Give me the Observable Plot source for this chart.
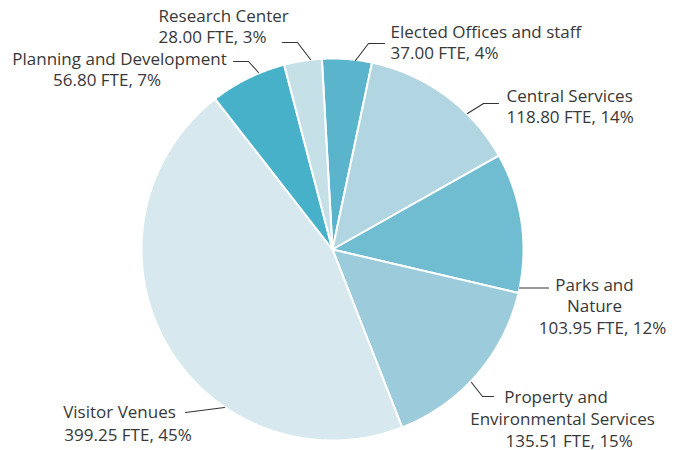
<!DOCTYPE html>
<html>
<head>
<meta charset="utf-8">
<script src="https://cdn.jsdelivr.net/npm/d3@7"></script>
<script src="https://cdn.jsdelivr.net/npm/@observablehq/plot@0.6"></script>
<style>
  html, body { margin: 0; padding: 0; background: #fff; }
  #chart svg { display: block; }
</style>
</head>
<body>
<div id="chart"></div>
<script>
// ---- data (clockwise from the top) ----
const names = ["Elected Offices and staff", "Central Services", "Parks and Nature",
  "Property and Environmental Services", "Visitor Venues", "Planning and Development", "Research Center"];
const labelNames = ["Elected Offices and staff", "Central Services", "Parks and\nNature",
  "Property and\nEnvironmental Services", "Visitor Venues", "Planning and Development", "Research Center"];
const fte = [37.00, 118.80, 103.95, 135.51, 399.25, 56.80, 28.00];
const percents = [4, 14, 12, 15, 45, 7, 3];

// ---- styles ----
const colors = ["#5ab5cc", "#b2d6e1", "#70bdd1", "#9ccbdb", "#d7e9ee", "#47b1ca", "#c6e0e8"];

// ---- layout (pixels) ----
const cx = 332, cy = 249, radius = 191;
const startDeg = -3.2;
// per label line: [x, baseline, anchor]
const labelLayout = [
  [[390, 37, "start"], [390, 58.5, "start"]],
  [[506, 101, "start"], [506, 122.5, "start"]],
  [[594, 290, "middle"], [594, 311.5, "middle"], [602, 333.5, "middle"]],
  [[555.5, 402.5, "middle"], [562, 424, "middle"], [568.7, 446, "middle"]],
  [[119, 417, "middle"], [127.5, 440, "middle"]],
  [[119, 64, "middle"], [106.5, 85, "middle"]],
  [[158, 21, "start"], [158, 42.5, "start"]]
];
const leaderLayout = [
  [[355, 60], [368, 43], [384, 43]],
  [[467, 113], [483, 103], [498, 103]],
  [[519, 287.5], [548, 287.5]],
  [[471, 382], [482, 396], [493, 396]],
  [[185, 412], [224, 407]],
  [[233, 61], [248, 61], [258, 72]],
  [[282, 42], [297, 42], [310, 59]]
];

// ---- build ----
const rows = names.map((name, i) => ({name, fte: fte[i], pct: percents[i], i}));
const arcs = d3.pie().sort(null).value(d => d.fte)
  .startAngle(startDeg * Math.PI / 180)
  .endAngle(startDeg * Math.PI / 180 + 2 * Math.PI)(rows);

const piePts = [];
for (const a of arcs) {
  const name = a.data.name;
  piePts.push({name, x: cx, y: cy});
  const steps = Math.max(4, Math.ceil((a.endAngle - a.startAngle) / (Math.PI / 360)));
  for (let k = 0; k <= steps; ++k) {
    const t = a.startAngle + (a.endAngle - a.startAngle) * k / steps;
    piePts.push({name, x: cx + radius * Math.sin(t), y: cy - radius * Math.cos(t)});
  }
}

const textRows = [];
rows.forEach((r, i) => {
  const lines = labelNames[i].split("\n").concat([`${r.fte.toFixed(2)} FTE, ${r.pct}%`]);
  lines.forEach((t, j) => {
    const [x, y, anchor] = labelLayout[i][j];
    textRows.push({text: t, x, y, anchor});
  });
});

const leaderPts = [];
leaderLayout.forEach((pts, i) => pts.forEach(([x, y]) => leaderPts.push({name: names[i], x, y})));

const textOpts = {x: "x", y: "y", text: "text", lineAnchor: "bottom", fill: "#383838",
  fontSize: 17, fontFamily: "'Open Sans', sans-serif"};

const chart = Plot.plot({
  width: 675,
  height: 450,
  margin: 0,
  style: {background: "#fff", fontFamily: "'Open Sans', sans-serif"},
  x: {domain: [0, 675], range: [0, 675], axis: null},
  y: {domain: [0, 450], range: [0, 450], axis: null},
  color: {type: "ordinal", domain: names, range: colors},
  marks: [
    Plot.line(piePts, {x: "x", y: "y", z: "name", fill: "name", stroke: "white",
      strokeWidth: 2, strokeLinejoin: "round", curve: "linear-closed"}),
    Plot.line(leaderPts, {x: "x", y: "y", z: "name", stroke: "#333", strokeWidth: 1.1}),
    Plot.text(textRows.filter(d => d.anchor === "start"), {...textOpts, textAnchor: "start"}),
    Plot.text(textRows.filter(d => d.anchor === "middle"), {...textOpts, textAnchor: "middle"})
  ]
});
document.getElementById("chart").appendChild(chart);
</script>
</body>
</html>
